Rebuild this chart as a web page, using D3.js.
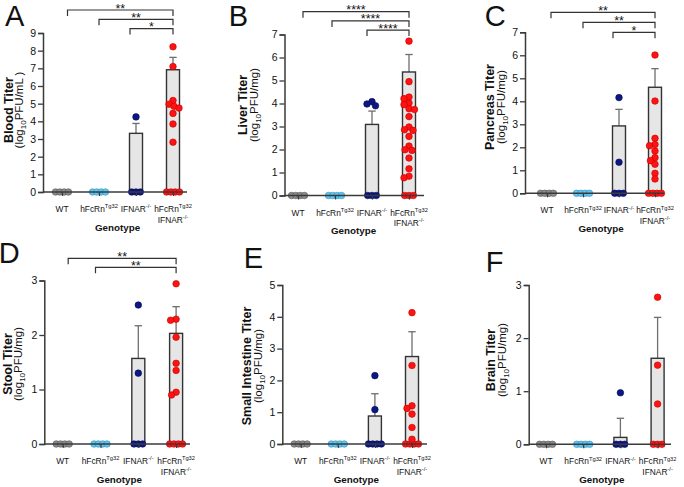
<!DOCTYPE html>
<html><head><meta charset="utf-8">
<script src="https://cdn.jsdelivr.net/npm/d3@7"></script>
<style>
body{margin:0;background:#fff}
svg{display:block}
text{font-family:"Liberation Sans",Arial,Helvetica,sans-serif;fill:#111}
</style>
</head><body>
<svg id="c" width="684" height="487"></svg>
<script>
// ---------------- DATA ----------------
const categories = ["WT", "hFcRn", "IFNAR", "hFcRn IFNAR"];
// category tick labels: [base text, superscript] per line
const categoryLabels = [
  [["WT", ""]],
  [["hFcRn", "Tg32"]],
  [["IFNAR", "-/-"]],
  [["hFcRn", "Tg32"], ["IFNAR", "-/-"]]
];
const panelLetters = ["A", "B", "C", "D", "E", "F"];
const yTitles = ["Blood Titer", "Liver Titer", "Pancreas Titer", "Stool Titer", "Small Intestine Titer", "Brain Titer"];
const yUnits = ["mL )", "mg)", "mg)", "mg)", "mg)", "mg)"];
const yMax = [9, 7, 7, 3, 5, 3];
const xTitle = "Genotype";

// bar heights (means) and error (SEM) per genotype
const bloodMeans = [0, 0, 3.32, 6.92];
const bloodSEM = [0, 0, 0.56, 0.70];
const liverMeans = [0, 0, 3.09, 5.37];
const liverSEM = [0, 0, 0.58, 0.76];
const pancreasMeans = [0, 0, 2.93, 4.61];
const pancreasSEM = [0, 0, 0.72, 0.81];
const stoolMeans = [0, 0, 1.57, 2.03];
const stoolSEM = [0, 0, 0.60, 0.49];
const intestineMeans = [0, 0, 0.88, 2.75];
const intestineSEM = [0, 0, 0.70, 0.78];
const brainMeans = [0, 0, 0.13, 1.62];
const brainSEM = [0, 0, 0.36, 0.77];

// individual animals
const bloodPoints = [
  [0, 0, 0, 0],
  [0, 0, 0, 0],
  [4.25, 0, 0, 0],
  [8.22, 7.10, 5.18, 4.97, 4.85, 4.75, 4.45, 3.85, 2.82, 0, 0, 0, 0]
];
const liverPoints = [
  [0, 0, 0, 0],
  [0, 0, 0, 0],
  [4.08, 3.98, 3.90, 0, 0, 0],
  [6.71, 4.95, 4.28, 4.21, 4.02, 3.95, 3.77, 3.74, 3.43, 2.98, 2.86, 2.83, 2.57, 2.15, 1.99, 1.96, 1.63, 1.16, 0.84, 0.77, 0, 0, 0]
];
const pancreasPoints = [
  [0, 0, 0, 0],
  [0, 0, 0, 0],
  [4.16, 1.35, 0, 0, 0],
  [6.01, 4.01, 2.39, 2.12, 2.07, 1.84, 1.55, 1.42, 1.26, 0.87, 0.62, 0, 0, 0, 0]
];
const stoolPoints = [
  [0, 0, 0, 0],
  [0, 0, 0, 0],
  [2.55, 1.30, 0, 0, 0],
  [2.94, 2.29, 2.27, 1.96, 1.48, 1.35, 0.95, 0.90, 0, 0, 0, 0]
];
const intestinePoints = [
  [0, 0, 0, 0],
  [0, 0, 0, 0],
  [2.15, 1.08, 0, 0, 0, 0],
  [4.13, 2.47, 1.20, 1.12, 0.94, 0.52, 0.15, 0, 0, 0, 0]
];
const brainPoints = [
  [0, 0, 0, 0],
  [0, 0, 0, 0],
  [0.97, 0, 0, 0],
  [2.77, 1.49, 0.76, 0, 0, 0]
];

// significance: comparison of group i vs group 3
const bloodSig = [["**", 0], ["**", 1], ["*", 2]];
const liverSig = [["****", 0], ["****", 1], ["****", 2]];
const pancreasSig = [["**", 0], ["**", 1], ["*", 2]];
const stoolSig = [["**", 0], ["**", 1]];
const intestineSig = [];
const brainSig = [];

const panelMeans = [bloodMeans, liverMeans, pancreasMeans, stoolMeans, intestineMeans, brainMeans];
const panelSEM = [bloodSEM, liverSEM, pancreasSEM, stoolSEM, intestineSEM, brainSEM];
const panelPoints = [bloodPoints, liverPoints, pancreasPoints, stoolPoints, intestinePoints, brainPoints];
const panelSig = [bloodSig, liverSig, pancreasSig, stoolSig, intestineSig, brainSig];

// ---------------- LAYOUT / STYLE ----------------
const layout = [
  {ax: 43, y0: 192, yt: 33, c0: 62, step: 37, xr: 187, lx: 5, ly: 26.4, tx: 12.7, ty: 110, brTop: 10, brGap: 9.3, brOff: [5.5, 0, -6]},
  {ax: 284.5, y0: 195.5, yt: 34.5, c0: 298, step: 37, xr: 424, lx: 228.8, ly: 26.4, tx: 247.3, ty: 105, brTop: 11.7, brGap: 9.2, brOff: [5, -3, -5]},
  {ax: 525, y0: 193.3, yt: 32.3, c0: 547, step: 36, xr: 664, lx: 484.8, ly: 26.4, tx: 494.3, ty: 107, brTop: 12.3, brGap: 10, brOff: [4, 0, -6]},
  {ax: 44.3, y0: 444, yt: 280.5, c0: 62.7, step: 37.8, xr: 190, lx: -1.2, ly: 263, tx: 11.7, ty: 364, brTop: 258.3, brGap: 9, brOff: [5.5, -5]},
  {ax: 282.3, y0: 444, yt: 285, c0: 300.7, step: 37.1, xr: 427, lx: 243.8, ly: 268.3, tx: 251.3, ty: 366},
  {ax: 528.7, y0: 444.3, yt: 285, c0: 546, step: 37.2, xr: 671, lx: 485.8, ly: 272.3, tx: 495.3, ty: 360}
];
const fillColors = ["#8a8a8a", "#5fc6f0", "#0c1783", "#ff1212"];
const strokeColors = ["#555555", "#2b8fc2", "#060c55", "#c40000"];
const axisColor = "#3a3a3a";
const barFill = "#e6e6e6";
const errColor = "#6e6e6e";
const R = 3.3;

const svg = d3.select("#c");

function swarm(vals, y) {
  const counts = d3.rollup(vals, v => v.length, d => d);
  const out = [];
  const rowStep = 4.3, minD = 5.2;
  const rowVals = [...counts.keys()].filter(v => counts.get(v) > 1);
  rowVals.forEach(v => {
    const n = counts.get(v);
    for (let i = 0; i < n; i++) out.push({v, dx: (i - (n - 1) / 2) * rowStep, py: y(v)});
  });
  const singles = vals.filter(v => counts.get(v) === 1).sort((a, b) => b - a);
  singles.forEach(v => {
    const py = y(v);
    let dx = 0;
    for (let k = 0; k < 80; k++) {
      const cand = k === 0 ? 0 : (k % 2 ? -1 : 1) * Math.ceil(k / 2) * 0.5;
      if (out.every(p => Math.hypot(p.dx - cand, p.py - py) >= minD)) { dx = cand; break; }
    }
    out.push({v, dx, py});
  });
  return out;
}

function labelText(sel, base, sup, fs) {
  sel.append("tspan").text(base);
  if (sup) sel.append("tspan").attr("font-size", fs * 0.68).attr("dy", -fs * 0.42).text(sup);
}

layout.forEach((L, p) => {
  const g = svg.append("g");
  const y = d3.scaleLinear().domain([0, yMax[p]]).range([L.y0, L.yt]);
  const x = d3.scalePoint().domain(categories).range([L.c0, L.c0 + 3 * L.step]);
  const means = panelMeans[p], sems = panelSEM[p], pts = panelPoints[p];

  // panel letter
  g.append("text").attr("x", L.lx).attr("y", L.ly).attr("font-size", 29).text(panelLetters[p]);

  // y axis
  const yAxis = d3.axisLeft(y).tickValues(d3.range(0, yMax[p] + 1)).tickSize(5).tickPadding(2).tickFormat(d3.format("d"));
  const ya = g.append("g").attr("transform", `translate(${L.ax},0)`).call(yAxis);
  ya.select(".domain").attr("stroke", axisColor).attr("stroke-width", 1.5);
  ya.selectAll(".tick line").attr("stroke", axisColor).attr("stroke-width", 1.3);
  ya.selectAll(".tick text").attr("font-size", 10.5).attr("fill", "#222").attr("font-family", '"Liberation Sans",Arial,sans-serif');

  // y title
  g.append("text").attr("transform", `translate(${L.tx},${L.ty}) rotate(-90)`)
    .attr("text-anchor", "middle").attr("font-size", 12.5).attr("font-weight", "bold").text(yTitles[p]);
  const t2 = g.append("text").attr("transform", `translate(${L.tx + 10.5},${L.ty}) rotate(-90)`)
    .attr("text-anchor", "middle").attr("font-size", 11.5);
  t2.append("tspan").text("(log");
  t2.append("tspan").attr("font-size", 8).attr("dy", 3).text("10");
  t2.append("tspan").attr("dy", -3).text("PFU/" + yUnits[p]);

  // bars
  categories.forEach((c, i) => {
    const bw = 13;
    const cx = x(c);
    if (means[i] > 0) {
      const top = y(means[i] + sems[i]);
      g.append("line").attr("x1", cx).attr("x2", cx).attr("y1", y(means[i])).attr("y2", top)
        .attr("stroke", errColor).attr("stroke-width", 1.3);
      g.append("line").attr("x1", cx - 3.7).attr("x2", cx + 3.7).attr("y1", top).attr("y2", top)
        .attr("stroke", errColor).attr("stroke-width", 1.3);
    }
    g.append("rect").attr("x", cx - bw / 2).attr("y", y(means[i])).attr("width", bw)
      .attr("height", y(0) - y(means[i])).attr("fill", barFill).attr("stroke", "#333").attr("stroke-width", 1.4);
  });

  // points
  categories.forEach((c, i) => {
    const sw = swarm(pts[i], y);
    g.selectAll(null).data(sw).enter().append("circle")
      .attr("cx", d => x(c) + d.dx).attr("cy", d => d.py).attr("r", R)
      .attr("fill", fillColors[i]).attr("stroke", strokeColors[i]).attr("stroke-width", 0.6);
  });

  // x axis
  const xAxis = d3.axisBottom(x).tickSize(4).tickFormat("");
  const xa = g.append("g").attr("transform", `translate(0,${L.y0})`).call(xAxis);
  xa.select(".domain").remove();
  xa.selectAll(".tick line").attr("stroke", axisColor).attr("stroke-width", 1.2);
  g.append("line").attr("x1", L.ax).attr("x2", L.xr).attr("y1", L.y0).attr("y2", L.y0)
    .attr("stroke", axisColor).attr("stroke-width", 1.5);

  // x labels
  categories.forEach((c, i) => {
    categoryLabels[i].forEach((ln, j) => {
      const t = g.append("text").attr("x", x(c)).attr("y", L.y0 + 20 + j * 10.5)
        .attr("text-anchor", "middle").attr("font-size", 8.4).attr("fill", "#222");
      labelText(t, ln[0], ln[1], 8.4);
    });
  });
  g.append("text").attr("x", (x(categories[0]) + x(categories[3])) / 2).attr("y", L.y0 + 38.5)
    .attr("text-anchor", "middle").attr("font-size", 9.8).attr("font-weight", "bold").text(xTitle);

  // significance brackets
  panelSig[p].forEach((s, k) => {
    const by = L.brTop + k * L.brGap;
    const x1 = x(categories[s[1]]) + L.brOff[k];
    const x2 = x(categories[3]);
    g.append("path").attr("d", `M${x1},${by + 6}V${by}H${x2}V${by + 6}`)
      .attr("fill", "none").attr("stroke", "#333").attr("stroke-width", 1.2);
    g.append("text").attr("x", (x1 + x2) / 2).attr("y", by + 2.5).attr("text-anchor", "middle")
      .attr("font-size", 12.5).text(s[0]);
  });
});
</script>
</body></html>
